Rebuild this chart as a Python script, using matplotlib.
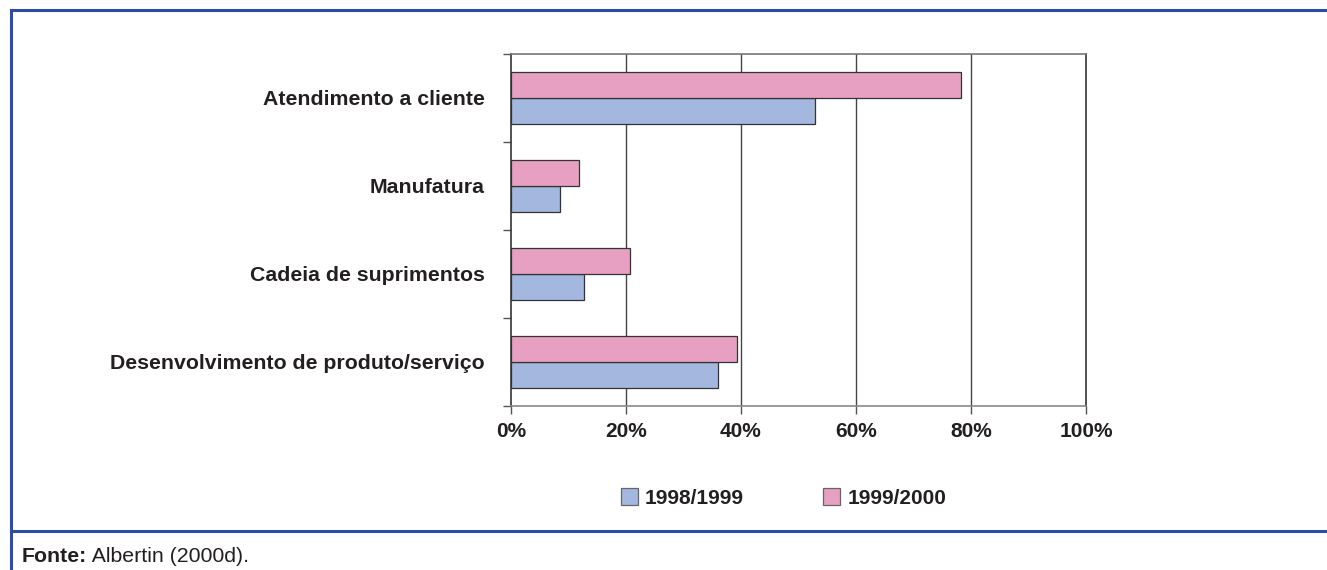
import numpy as np
import matplotlib
matplotlib.use("Agg")
import matplotlib.pyplot as plt
from matplotlib.lines import Line2D

# dados
categorias = ["Desenvolvimento de produto/serviço", "Cadeia de suprimentos",
              "Manufatura", "Atendimento a cliente"]
v_1998_1999 = [36.0, 12.8, 8.6, 52.9]
v_1999_2000 = [39.4, 20.8, 11.9, 78.2]
serie_nomes = ["1998/1999", "1999/2000"]
xticks = [0, 20, 40, 60, 80, 100]
xtick_labels = ["0%", "20%", "40%", "60%", "80%", "100%"]
fonte_bold = "Fonte:"
fonte_txt = " Albertin (2000d)."

azul = "#A3B7DF"
rosa = "#E8A0C2"
moldura = "#2D4CA6"
texto = "#231F20"

plt.rcParams['font.family'] = ['Liberation Sans', 'DejaVu Sans']

fig = plt.figure(figsize=(13.27, 5.70), dpi=100)
ax = fig.add_axes([510.7 / 1327, 1 - 405.7 / 570, (1086 - 510.7) / 1327, (405.7 - 53.7) / 570])

y = np.arange(len(categorias))
h = 0.296
b1 = ax.barh(y - h / 2, v_1998_1999, height=h, color=azul, edgecolor="#333333",
             linewidth=0.9, zorder=3, label=serie_nomes[0])
b2 = ax.barh(y + h / 2, v_1999_2000, height=h, color=rosa, edgecolor="#333333",
             linewidth=0.9, zorder=3, label=serie_nomes[1])

ax.set_xlim(0, 100)
ax.set_ylim(-0.5, len(categorias) - 0.5)

ax.set_xticks(xticks)
ax.set_xticklabels(xtick_labels, fontsize=15, fontweight="bold", color=texto)
ax.tick_params(axis="x", length=5.5, width=1, color="#555555", pad=6)

ax.set_yticks(y)
ax.set_yticklabels(categorias, fontsize=15.3, fontweight="bold", color=texto)
ax.tick_params(axis="y", which="major", length=0, pad=18.5)
ax.set_yticks(np.arange(-0.5, len(categorias), 1.0), minor=True)
ax.tick_params(axis="y", which="minor", length=6, width=1, color="#555555")

for xv in xticks[1:-1]:
    ax.axvline(xv, color="#444444", linewidth=1, zorder=1)

ax.spines["top"].set_color("#777777")
ax.spines["bottom"].set_color("#888888")
ax.spines["left"].set_color("#333333")
ax.spines["right"].set_color("#333333")
for s in ax.spines.values():
    s.set_linewidth(1.2)

leg = fig.legend(handles=[b1, b2], labels=serie_nomes, loc="center left",
                 bbox_to_anchor=(620.7 / 1327, 1 - 498 / 570), ncol=2, frameon=False,
                 prop={"size": 15, "weight": "bold"}, handlelength=0.82, handleheight=0.82,
                 handletextpad=0.35, columnspacing=3.8, borderpad=0, borderaxespad=0)
for t in leg.get_texts():
    t.set_color(texto)
for p in leg.get_patches():
    p.set_edgecolor("#666666")

# moldura azul
def px(xp, yp):
    return xp / 1327, 1 - yp / 570

fig.add_artist(Line2D([px(10.5, 0)[0], 1], [px(0, 10)[1]] * 2, color=moldura, lw=2.2))
fig.add_artist(Line2D([px(10.5, 0)[0]] * 2, [px(0, 10)[1], 0], color=moldura, lw=2.2))
fig.add_artist(Line2D([px(10.5, 0)[0], 1], [px(0, 531)[1]] * 2, color=moldura, lw=2.2))

t1 = fig.text(22 / 1327, 1 - 556 / 570, fonte_bold, fontsize=15.3, fontweight="bold",
              color=texto, va="center", ha="left")
ax.annotate(fonte_txt, xy=(1, 0.5), xycoords=t1, va="center", ha="left",
            fontsize=15.3, color=texto, annotation_clip=False)

fig.savefig("out.png", dpi=100)
